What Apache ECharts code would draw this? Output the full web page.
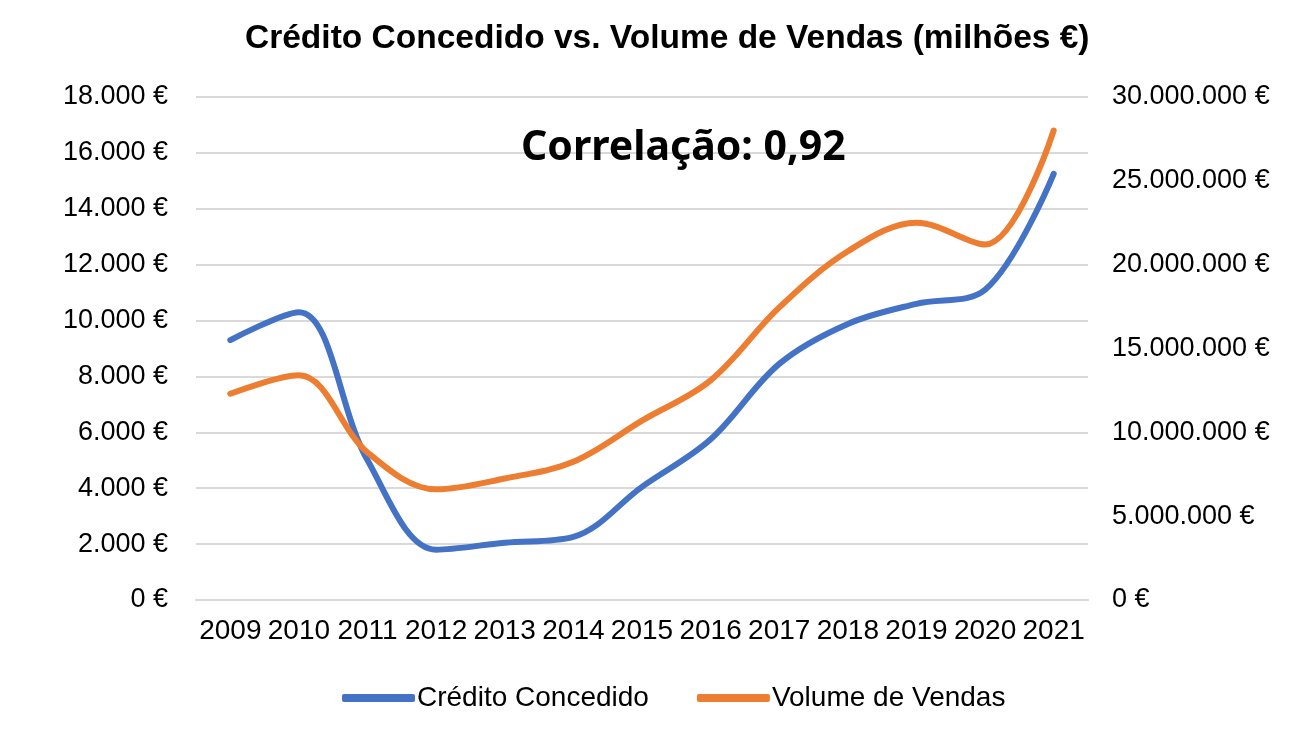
<!DOCTYPE html>
<html>
<head>
<meta charset="utf-8">
<script src="https://cdn.jsdelivr.net/npm/echarts@6/dist/echarts.min.js"></script>
<style>
html,body{margin:0;padding:0;background:#fff;}
#main{width:1316px;height:732px;}
</style>
</head>
<body>
<div id="main"></div>
<script>
var anos = ['2009','2010','2011','2012','2013','2014','2015','2016','2017','2018','2019','2020','2021'];
// milhões € (eixo esquerdo)
var credito = [9300, 10300, 5000, 1800, 2050, 2260, 4050, 5750, 8450, 9880, 10600, 11100, 15250];
// € (eixo direito)
var vendas = [12300000, 13400000, 8800000, 6600000, 7250000, 8250000, 10700000, 13100000, 17450000, 20800000, 22500000, 21200000, 28000000];

function euro(v)
{
    var s = String(Math.round(v)).replace(/\B(?=(\d{3})+(?!\d))/g, '.');
    return s + ' €';
}

var font = 'Liberation Sans';
var option = {
    animation: false,
    title: [
        {
            text: 'Crédito Concedido vs. Volume de Vendas (milhões €)',
            left: 240,
            top: 17,
            textStyle: { fontFamily: font, fontSize: 33.5, fontWeight: 'bold', color: '#000' }
        },
        {
            // caixa de texto com a correlação
            text: 'Correlação: 0,92',
            left: 516,
            top: 123,
            z: 10,
            textStyle: { fontFamily: 'Noto Sans', fontSize: 41, fontWeight: 'bold', color: '#000' }
        }
    ],
    grid: { left: 196, right: 228, top: 97, bottom: 132 },
    legend: {
        top: 679,
        left: 337,
        itemWidth: 73,
        itemHeight: 8,
        itemGap: 48,
        icon: 'roundRect',
        textStyle: { fontFamily: font, fontSize: 28, color: '#000', padding: [0,0,0,-3] },
        data: ['Crédito Concedido', 'Volume de Vendas']
    },
    xAxis: {
        type: 'category',
        data: anos,
        boundaryGap: true,
        axisLine: { show: true, lineStyle: { color: '#d9d9d9', width: 2 } },
        axisTick: { show: false },
        axisLabel: { fontFamily: font, fontSize: 28, color: '#000', margin: 17, interval: 0 }
    },
    yAxis: [
        {
            type: 'value', min: 0, max: 18000, interval: 2000,
            axisLine: { show: false }, axisTick: { show: false },
            splitLine: { lineStyle: { color: '#d9d9d9', width: 2 } },
            axisLabel: { fontFamily: font, fontSize: 27, color: '#000', margin: 28, formatter: euro }
        },
        {
            type: 'value', min: 0, max: 30000000, interval: 5000000,
            axisLine: { show: false }, axisTick: { show: false },
            splitLine: { show: false },
            axisLabel: { fontFamily: font, fontSize: 27, color: '#000', margin: 24, formatter: euro }
        }
    ],
    series: [
        {
            name: 'Crédito Concedido', type: 'line', yAxisIndex: 0,
            data: credito, smooth: 0.35, symbol: 'none',
            itemStyle: { color: '#4472C4' },
            lineStyle: { color: '#4472C4', width: 6, cap: 'round' }
        },
        {
            name: 'Volume de Vendas', type: 'line', yAxisIndex: 1,
            data: vendas, smooth: 0.35, symbol: 'none',
            itemStyle: { color: '#ED7D31' },
            lineStyle: { color: '#ED7D31', width: 6, cap: 'round' }
        }
    ]
};
var myChart = echarts.init(document.getElementById('main'));
myChart.setOption(option);
</script>
</body>
</html>
